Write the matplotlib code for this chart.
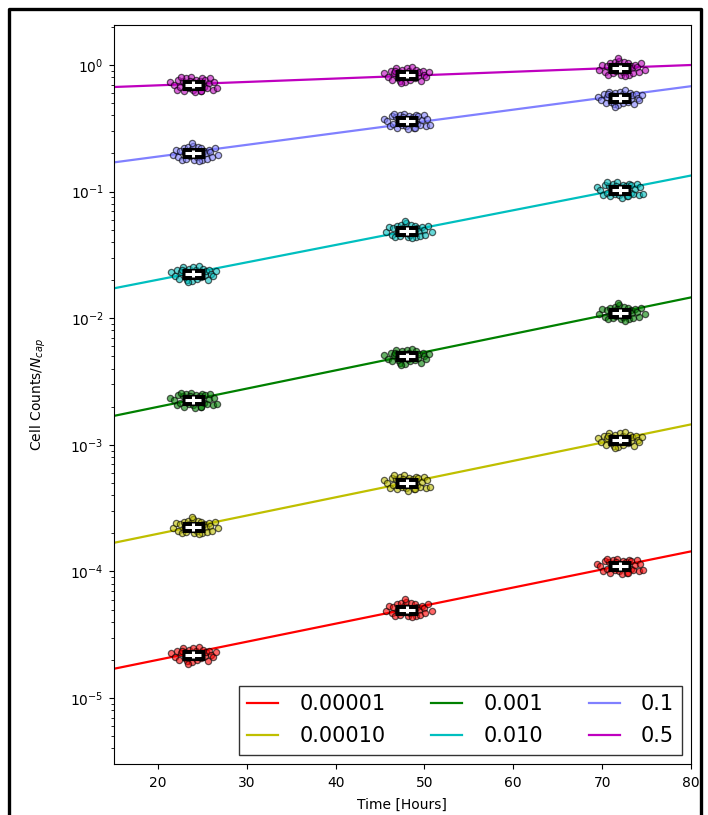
import numpy as np
import matplotlib
matplotlib.use("Agg")
from matplotlib import pyplot as plt
from matplotlib.patches import Rectangle
from matplotlib.lines import Line2D

# starting fractions (legend) and colours
labels = ["0.00001", "0.00010", "0.001", "0.010", "0.1", "0.5"]
colors = ["#ff0000", "#bfbf00", "#008000", "#00bfbf", "#8080ff", "#bf00bf"]

# sampling times and cluster centres
times = [24, 48, 72]
centres = [
    [2.2e-5, 5.0e-5, 1.1e-4],
    [2.25e-4, 5.0e-4, 1.1e-3],
    [2.25e-3, 5.0e-3, 1.1e-2],
    [2.25e-2, 4.9e-2, 1.03e-1],
    [0.20, 0.36, 0.55],
    [0.70, 0.84, 0.94],
]

# fitted growth lines, value at t=15 and t=80
line_t = [15, 80]
line_vals = [
    [1.7e-5, 1.44e-4],
    [1.68e-4, 1.45e-3],
    [1.69e-3, 1.46e-2],
    [1.72e-2, 1.34e-1],
    [0.17, 0.68],
    [0.67, 1.0],
]

# scatter offsets around each centre (hours, log10 units), three patterns
pat_dt = [
    [-2.5, -2.1, -1.8, -1.6, -1.4, -1.2, -1.0, -0.9, -0.7, -0.5, -0.4, -0.2, 0.0, 0.1,
     0.3, 0.4, 0.6, 0.8, 0.9, 1.1, 1.3, 1.4, 1.6, 1.8, 2.0, 2.2, 2.5, -0.6, 0.5, -1.3],
    [-2.3, -2.0, -1.7, -1.5, -1.3, -1.1, -0.9, -0.8, -0.6, -0.4, -0.3, -0.1, 0.1, 0.2,
     0.4, 0.5, 0.7, 0.9, 1.0, 1.2, 1.4, 1.5, 1.7, 1.9, 2.1, 2.4, 2.8, -0.2, 0.6, -1.0],
    [-2.6, -2.2, -1.9, -1.7, -1.5, -1.2, -1.1, -0.8, -0.6, -0.5, -0.3, -0.1, 0.0, 0.2,
     0.3, 0.5, 0.7, 0.8, 1.0, 1.2, 1.3, 1.5, 1.7, 1.9, 2.2, 2.3, 2.6, -0.4, 0.9, -1.4],
]
pat_dy = [
    [0.01, -0.02, 0.03, -0.04, 0.01, 0.05, -0.03, 0.02, -0.05, 0.04, 0.00, -0.06, 0.05, -0.02,
     0.03, -0.04, 0.06, 0.01, -0.03, 0.04, -0.01, 0.02, -0.05, 0.03, 0.00, -0.02, 0.02, -0.07, -0.01, 0.03],
    [-0.01, 0.03, -0.03, 0.02, -0.05, 0.04, 0.01, -0.04, 0.05, -0.02, 0.03, 0.06, -0.05, 0.01,
     -0.03, 0.05, -0.02, 0.04, -0.05, 0.02, 0.00, -0.04, 0.03, 0.01, -0.03, 0.04, -0.01, 0.08, -0.06, 0.00],
    [0.02, 0.00, -0.04, 0.04, -0.02, 0.03, -0.05, 0.05, 0.01, -0.03, 0.06, -0.04, 0.02, -0.06,
     0.04, -0.01, 0.03, -0.05, 0.05, -0.02, 0.04, -0.03, 0.01, 0.05, -0.04, 0.02, -0.03, 0.03, -0.05, 0.06],
]

W, H = 708, 815
fig = plt.figure(figsize=(W / 100, H / 100), dpi=100)
ax = fig.add_axes([113.5 / W, (H - 763.5) / H, (691 - 113.5) / W, (763.5 - 25) / H])

handles = []
for i in range(len(labels)):
    ax.plot(line_t, line_vals[i], color=colors[i], lw=1.6, zorder=2)
    for j, t in enumerate(times):
        p = (i + j) % 3
        xs = t + np.array(pat_dt[p])
        ys = centres[i][j] * 10 ** np.array(pat_dy[p])
        ax.plot(xs, ys, 'o', ms=4.5, mfc=colors[i], mec='k', mew=0.9, alpha=0.6, zorder=3)
        yc = centres[i][j]
        yerr = [[yc * (1 - 10 ** -0.03)], [yc * (10 ** 0.03 - 1)]]
        ax.errorbar([t], [yc], xerr=1.3, fmt='none', ecolor='k', elinewidth=8, zorder=4)
        ax.errorbar([t], [yc], xerr=0.9, yerr=yerr, fmt='none', ecolor='w', elinewidth=2.2, zorder=5)
    handles.append(Line2D([], [], color=colors[i], lw=1.6))

ax.set_yscale('log')
ax.set_xlim(15, 80)
ax.set_ylim(3.04e-6, 2.07)
ax.tick_params(axis='x', pad=5.5)
ax.set_xlabel("Time [Hours]", fontsize=10, labelpad=6)
ax.set_ylabel("Cell Counts/$N_{cap}$", fontsize=10, labelpad=16)

leg = ax.legend(handles, labels, loc='lower right', ncol=3, fontsize=15, fancybox=False,
                edgecolor='0.2', handlelength=1.5, columnspacing=2.2, handletextpad=1.0,
                labelspacing=0.6, borderaxespad=0.42, framealpha=1)
leg.get_frame().set_linewidth(1.0)

# screenshot frame around the figure, cut at right and bottom
fig.patches.append(Rectangle((699 / W, 0), 9 / W, 1, transform=fig.transFigure,
                             facecolor='w', edgecolor='none', zorder=10))
fig.lines.append(Line2D([8.5 / W, 8.5 / W, 701 / W, 701 / W], [0, 1 - 8.5 / H, 1 - 8.5 / H, 0],
                        transform=fig.transFigure, color='k', lw=2.4, zorder=11))

fig.savefig("out.png", dpi=100)
